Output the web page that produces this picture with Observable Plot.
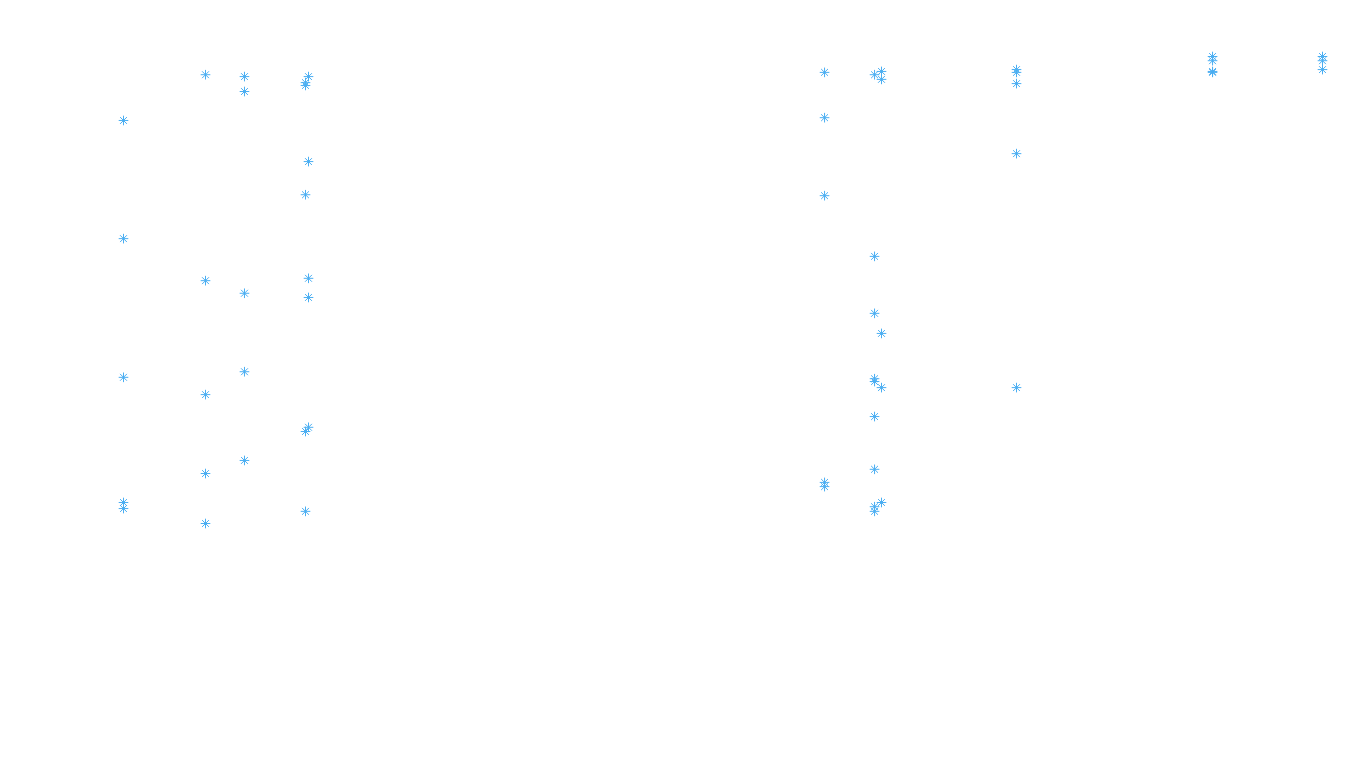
<!DOCTYPE html>
<html>
<head>
<meta charset="utf-8">
<script src="https://cdn.jsdelivr.net/npm/d3@7"></script>
<script src="https://cdn.jsdelivr.net/npm/@observablehq/plot@0.6"></script>
<style>
  html, body { margin: 0; padding: 0; background: #fff; }
  svg { display: block; }
</style>
</head>
<body>
<div id="chart"></div>
<script>
const xs = [
  0, 0, 0, 0, 0,
  6.84, 6.84, 6.84, 6.84, 6.84,
  10.09, 10.09, 10.09, 10.09, 10.09,
  15.18, 15.18, 15.18, 15.18, 15.18,
  15.43, 15.43, 15.43, 15.43, 15.43,
  58.47, 58.47, 58.47, 58.47, 58.47,
  62.64, 62.64, 62.64, 62.64, 62.64, 62.64, 62.64, 62.64, 62.64,
  63.22, 63.22, 63.22, 63.22, 63.22,
  74.48, 74.48, 74.48, 74.48, 74.48,
  90.83, 90.83, 90.83, 90.83,
  100, 100, 100
];
const ys = [
  86.3, 61.0, 31.3, 4.5, 3.2,
  96.1, 52.0, 27.6, 10.7, 0,
  95.7, 92.5, 49.3, 32.5, 13.5,
  94.4, 93.8, 70.4, 19.7, 2.6,
  95.7, 77.5, 52.5, 48.4, 20.6,
  96.6, 86.9, 70.2, 8.8, 7.9,
  96.1, 57.2, 45.0, 31.0, 30.4, 22.9, 11.6, 3.6, 2.6,
  96.8, 95.1, 40.7, 29.1, 4.5,
  97.2, 96.6, 94.2, 79.2, 29.1,
  100, 99.1, 96.8, 96.6,
  100, 99.1, 97.2
];
const data = xs.map((x, i) => ({x, y: ys[i]}));

const color = "#4aaef2";
const chart = Plot.plot({
  width: 1360,
  height: 768,
  marginLeft: 123,
  marginRight: 38,
  marginTop: 56,
  marginBottom: 245,
  x: {domain: [0, 100], axis: null},
  y: {domain: [0, 100], axis: null},
  marks: [
    Plot.dot(data, {x: "x", y: "y", symbol: "plus", stroke: color, strokeWidth: 1, r: 3.2}),
    Plot.dot(data, {x: "x", y: "y", symbol: "times", stroke: color, strokeWidth: 1, r: 3.2})
  ]
});
document.getElementById("chart").appendChild(chart);
</script>
</body>
</html>
